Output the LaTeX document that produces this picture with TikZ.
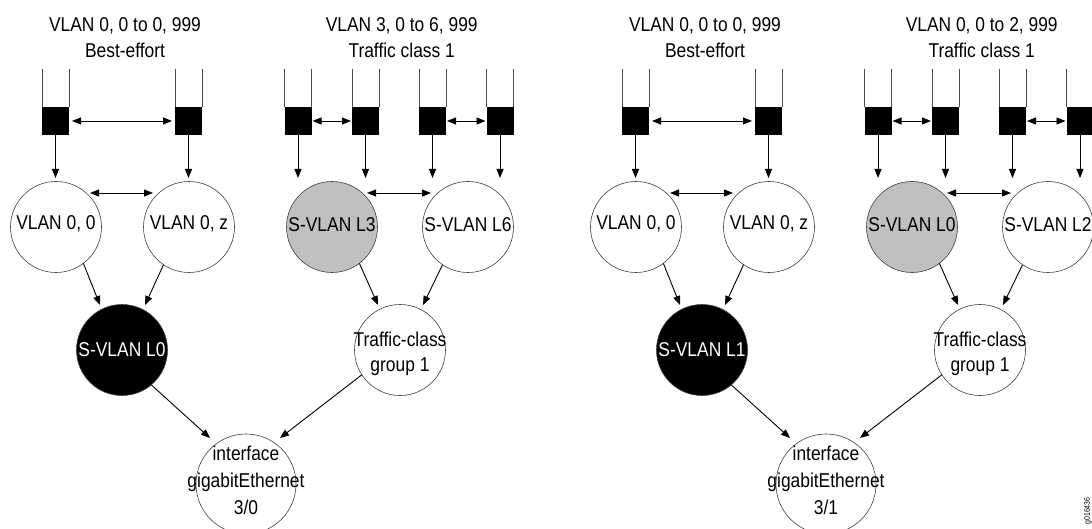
\documentclass[tikz,border=0pt]{standalone}
\usepackage{fontspec}
\setmainfont{Liberation Sans}[FakeStretch=0.87]
\usetikzlibrary{arrows.meta}
\begin{document}
\begin{tikzpicture}[x=1pt,y=-1pt,
  every node/.style={inner sep=0pt, outer sep=0pt},
  txt/.style={anchor=base, font=\fontsize{20}{26}\selectfont, align=center},
  wtxt/.style={txt, text=white},
  vc/.style={circle, draw=black!75, line width=0.6pt, minimum size=91pt},
  ifc/.style={circle, draw=black!75, line width=0.6pt, minimum size=100pt},
  qbox/.style={fill=black, minimum width=27pt, minimum height=28pt},
  wall/.style={line width=0.8pt, draw=black!70},
  arr/.style={-{Triangle[length=9pt,width=7pt]}, line width=0.9pt},
  darr/.style={{Triangle[length=9pt,width=7pt]}-{Triangle[length=9pt,width=7pt]}, line width=0.9pt}]
\useasboundingbox (0,0) rectangle (1092,529);
\coordinate (tipy) at (0,178);

% ================= LEFT HALF =================
\node[txt] (ta1) at (125,31.7) {VLAN 0, 0 to 0, 999};
\node[txt] (ta2) at (125,57.5) {Best-effort};
\node[txt] (tb1) at (401.7,31.7) {VLAN 3, 0 to 6, 999};
\node[txt] (tb2) at (401.7,57.5) {Traffic class 1};

\foreach \n/\x in {qa1/55.5,qa2/188.5,qb1/298,qb2/365.5,qb3/432.5,qb4/500}{
  \node[qbox] (\n) at (\x,121) {};
  \draw[wall] (\n.north west) -- ++(0,-38);
  \draw[wall] (\n.north east) -- ++(0,-38);
  \draw[arr] (\n.south) -- (\n.south |- tipy);
}
\draw[darr] ([xshift=3pt]qa1.east) -- ([xshift=-3pt]qa2.west);
\draw[darr] ([xshift=1pt]qb1.east) -- ([xshift=-1pt]qb2.west);
\draw[darr] ([xshift=1pt]qb3.east) -- ([xshift=-1pt]qb4.west);

\node[vc] (va1) at (56,227) {};
\node[vc] (va2) at (189,227) {};
\node[vc, fill={rgb,255:red,192;green,192;blue,192}] (vb1) at (332,227) {};
\node[vc] (vb2) at (468,227) {};
\node[txt] at (56,229.3) {VLAN 0, 0};
\node[txt] at (189,229.3) {VLAN 0, z};
\node[txt] at (332,232) {S-VLAN L3};
\node[txt] at (468,232) {S-VLAN L6};
\draw[darr] ([shift={(34,-34)}]va1.center) -- ([shift={(-36,-34)}]va2.center);
\draw[darr] ([shift={(35,-34)}]vb1.center) -- ([shift={(-37,-34)}]vb2.center);

\node[vc, fill=black] (sa) at (122,350) {};
\node[wtxt] at (122,356) {S-VLAN L0};
\node[vc] (tca) at (400,350) {};
\node[txt, font=\fontsize{20}{25}\selectfont] at (400,371.5) {Traffic-class\\group 1};

\draw[arr] (va1.-53) -- ([shift={(-22,-45)}]sa.center);
\draw[arr] (va2.-124) -- ([shift={(23,-45)}]sa.center);
\draw[arr] (vb1.-53) -- ([shift={(-22,-45)}]tca.center);
\draw[arr] (vb2.-124) -- ([shift={(23,-45)}]tca.center);

\node[ifc] (ifa) at (246,484) {};
\node[txt, font=\fontsize{20}{26.7}\selectfont] at (246,514) {interface\\gigabitEthernet\\3/0};
\draw[arr] (sa.-50) -- ([shift={(-36,-46)}]ifa.center);
\draw[arr] (tca.213) -- ([shift={(34,-46)}]ifa.center);

% ================= RIGHT HALF =================
\node[txt] (tc1) at (705,31.7) {VLAN 0, 0 to 0, 999};
\node[txt] (tc2) at (705,57.5) {Best-effort};
\node[txt] (td1) at (981.7,31.7) {VLAN 0, 0 to 2, 999};
\node[txt] (td2) at (981.7,57.5) {Traffic class 1};

\foreach \n/\x in {qc1/635.5,qc2/768.5,qd1/878,qd2/945.5,qd3/1012.5,qd4/1080}{
  \node[qbox] (\n) at (\x,121) {};
  \draw[wall] (\n.north west) -- ++(0,-38);
  \draw[wall] (\n.north east) -- ++(0,-38);
  \draw[arr] (\n.south) -- (\n.south |- tipy);
}
\draw[darr] ([xshift=3pt]qc1.east) -- ([xshift=-3pt]qc2.west);
\draw[darr] ([xshift=1pt]qd1.east) -- ([xshift=-1pt]qd2.west);
\draw[darr] ([xshift=1pt]qd3.east) -- ([xshift=-1pt]qd4.west);

\node[vc] (vc1) at (636,227) {};
\node[vc] (vc2) at (769,227) {};
\node[vc, fill={rgb,255:red,192;green,192;blue,192}] (vd1) at (912,227) {};
\node[vc] (vd2) at (1048,227) {};
\node[txt] at (636,229.3) {VLAN 0, 0};
\node[txt] at (769,229.3) {VLAN 0, z};
\node[txt] at (912,232) {S-VLAN L0};
\node[txt] at (1048,232) {S-VLAN L2};
\draw[darr] ([shift={(34,-34)}]vc1.center) -- ([shift={(-36,-34)}]vc2.center);
\draw[darr] ([shift={(35,-34)}]vd1.center) -- ([shift={(-37,-34)}]vd2.center);

\node[vc, fill=black] (sc) at (702,350) {};
\node[wtxt] at (702,356) {S-VLAN L1};
\node[vc] (tcc) at (980,350) {};
\node[txt, font=\fontsize{20}{25}\selectfont] at (980,371.5) {Traffic-class\\group 1};

\draw[arr] (vc1.-53) -- ([shift={(-22,-45)}]sc.center);
\draw[arr] (vc2.-124) -- ([shift={(23,-45)}]sc.center);
\draw[arr] (vd1.-53) -- ([shift={(-22,-45)}]tcc.center);
\draw[arr] (vd2.-124) -- ([shift={(23,-45)}]tcc.center);

\node[ifc] (ifc) at (826,484) {};
\node[txt, font=\fontsize{20}{26.7}\selectfont] at (826,514) {interface\\gigabitEthernet\\3/1};
\draw[arr] (sc.-50) -- ([shift={(-36,-46)}]ifc.center);
\draw[arr] (tcc.213) -- ([shift={(34,-46)}]ifc.center);

\node[rotate=90, font=\fontsize{8}{9}\selectfont] (fig) at (1088,511) {g016436};
\end{tikzpicture}
\end{document}
